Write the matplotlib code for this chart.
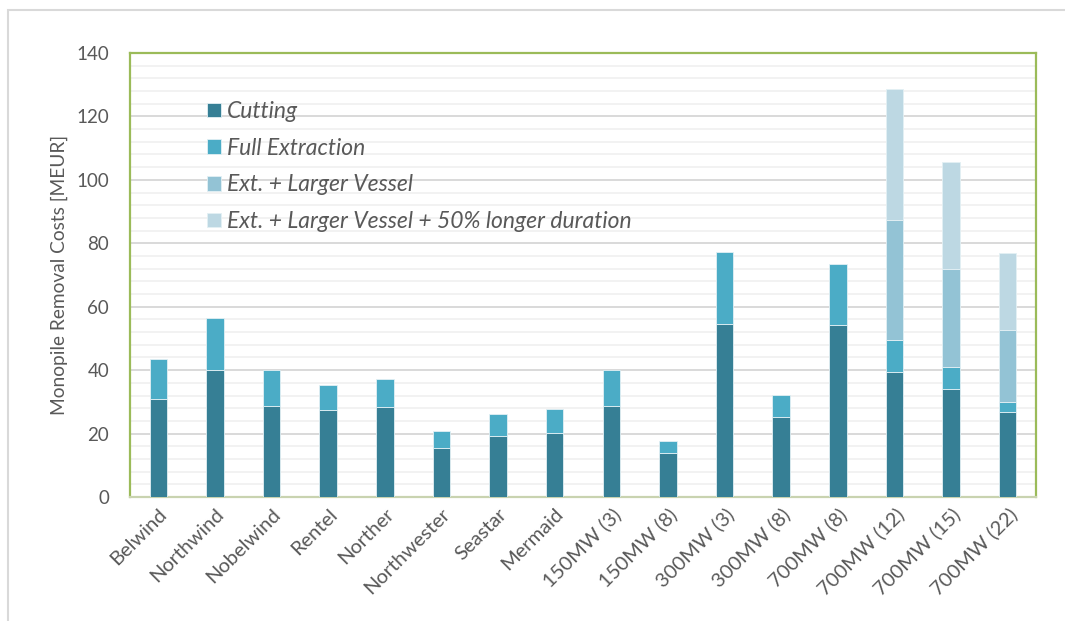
import matplotlib
matplotlib.use("Agg")
import matplotlib.pyplot as plt
from matplotlib.patches import Rectangle
from matplotlib.ticker import MultipleLocator
import numpy as np

plt.rcParams['font.family'] = ['Lato', 'DejaVu Sans']

# Wind farms / scenarios
categories = ["Belwind", "Northwind", "Nobelwind", "Rentel", "Norther",
              "Northwester", "Seastar", "Mermaid", "150MW (3)", "150MW (8)",
              "300MW (3)", "300MW (8)", "700MW (8)", "700MW (12)",
              "700MW (15)", "700MW (22)"]

# Monopile removal cost per method [MEUR] (cumulative scenario totals)
cutting = [30.9, 40.1, 28.8, 27.3, 28.5, 15.3, 19.1, 20.1, 28.8, 14.0,
           54.4, 25.1, 54.1, 39.3, 33.9, 26.9]
full_extraction = [43.5, 56.5, 40.0, 35.4, 37.2, 20.7, 26.1, 27.8, 40.0, 17.6,
                   77.3, 32.3, 73.5, 49.6, 40.9, 29.8]
ext_larger_vessel = [None] * 13 + [87.2, 72.0, 52.8]
ext_larger_vessel_longer = [None] * 13 + [128.5, 105.6, 76.8]

series_names = ["Cutting", "Full Extraction", "Ext. + Larger Vessel",
                "Ext. + Larger Vessel + 50% longer duration"]
colors = ["#367F95", "#4BACC6", "#93C3D5", "#BDD8E3"]

fig = plt.figure(figsize=(10.65, 6.21), dpi=100)
fig.patch.set_facecolor("white")

# outer frame of the chart area
fig.patches.append(Rectangle((8 / 1065, -0.1), 1.2, 1 - 10 / 621 + 0.1,
                             transform=fig.transFigure, fill=False,
                             edgecolor="#D9D9D9", linewidth=1.5))

ax = fig.add_axes([130 / 1065, 1 - 497 / 621, 906 / 1065, 444 / 621])

x = np.arange(len(categories))
width = 0.31
series = [cutting, full_extraction, ext_larger_vessel, ext_larger_vessel_longer]
prev = np.zeros(len(categories))
handles = []
for vals, name, col in zip(series, series_names, colors):
    v = np.array([np.nan if a is None else a for a in vals], dtype=float)
    mask = ~np.isnan(v)
    heights = np.where(mask, v - prev, 0)
    bars = ax.bar(x[mask], heights[mask], bottom=prev[mask], width=width,
                  color=col, edgecolor="#E3F0F4", linewidth=0.6, zorder=3,
                  label=name)
    handles.append(bars)
    prev = np.where(mask, v, prev)

ax.set_xlim(-0.5, len(categories) - 0.5)
ax.set_ylim(0, 140)
ax.yaxis.set_major_locator(MultipleLocator(20))
ax.yaxis.set_minor_locator(MultipleLocator(4))
ax.grid(which="major", axis="y", color="#D9D9D9", linewidth=1.4, zorder=0)
ax.grid(which="minor", axis="y", color="#F2F2F2", linewidth=1.4, zorder=0)
ax.set_axisbelow(True)

for side in ["left", "top", "right"]:
    ax.spines[side].set_color("#9BBB59")
    ax.spines[side].set_linewidth(1.6)
ax.spines["bottom"].set_color("#C9D3B0")
ax.spines["bottom"].set_linewidth(1.6)

ax.tick_params(axis="both", which="both", length=0, colors="#595959")
ax.tick_params(axis="y", labelsize=13.5, pad=15)
ax.set_xticks(x)
ax.set_xticklabels(categories, rotation=45, ha="right", rotation_mode="anchor",
                   fontsize=14.5, color="#595959")
ax.tick_params(axis="x", pad=6)
for lab in ax.get_yticklabels():
    lab.set_color("#595959")

ax.set_ylabel("Monopile Removal Costs [MEUR]", fontsize=13.8, color="#595959",
              labelpad=6)

leg = ax.legend(handles=handles, labels=series_names, loc="upper left",
                bbox_to_anchor=(0.075, 0.912), frameon=False,
                prop={"style": "italic", "size": 16.5}, handlelength=0.6,
                handleheight=0.6, handletextpad=0.28, labelspacing=0.68,
                borderaxespad=0)
for t in leg.get_texts():
    t.set_color("#595959")

fig.savefig("out.png", dpi=100, facecolor="white")
